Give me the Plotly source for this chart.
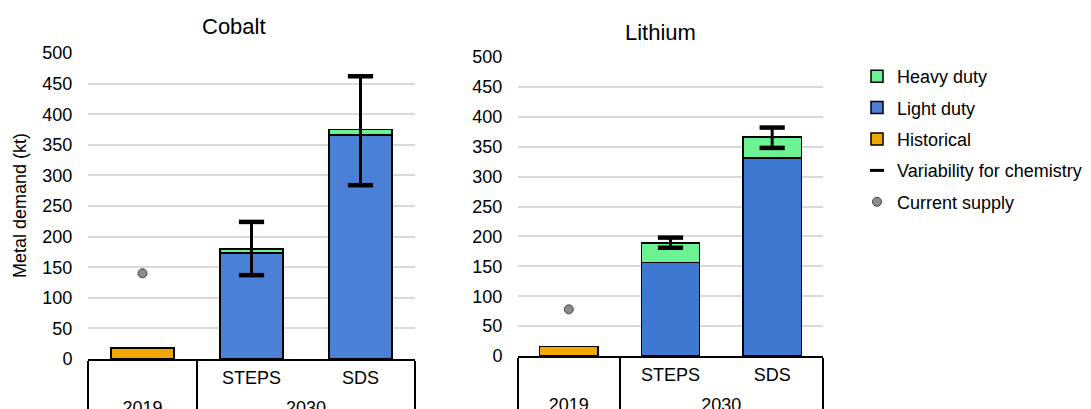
import plotly.graph_objects as go

# ---- data ----
years = ["2019", "2030", "2030"]
scenarios = ["<span style='font-size:27px'>\u00a0</span>", "STEPS", "SDS"]

cobalt_historical = [18, None, None]
cobalt_light = [None, 173, 366]
cobalt_heavy = [None, 7, 9]
cobalt_var_high = [None, 224, 462]
cobalt_var_low = [None, 137, 284]
cobalt_supply = [140, None, None]

lithium_historical = [16, None, None]
lithium_light = [None, 156, 331]
lithium_heavy = [None, 33, 35]
lithium_var_high = [None, 198, 382]
lithium_var_low = [None, 181, 348]
lithium_supply = [78, None, None]

C_HEAVY = "#6cf292"
C_LIGHT_CO = "#4a80d6"
C_LIGHT_LI = "#3e79d1"
C_HIST = "#f0a800"
C_SUPPLY = "#8c8c8c"
FONT = "Liberation Sans, Arial, sans-serif"

W, H = 1091, 409
x_cat = [years, scenarios]

fig = go.Figure()


def add_panel(fig, xa, ya, hist, light, heavy, hi, lo, supply, light_color, show):
    fig.add_trace(go.Bar(x=x_cat, y=hist, name="Historical", legendgroup="hist",
                         marker=dict(color=C_HIST, line=dict(color="black", width=1.5)),
                         xaxis=xa, yaxis=ya, showlegend=show, legendrank=3))
    fig.add_trace(go.Bar(x=x_cat, y=light, name="Light duty", legendgroup="light",
                         marker=dict(color=light_color, line=dict(color="black", width=1.5)),
                         xaxis=xa, yaxis=ya, showlegend=show, legendrank=2))
    fig.add_trace(go.Bar(x=x_cat, y=heavy, name="Heavy duty", legendgroup="heavy",
                         marker=dict(color=C_HEAVY, line=dict(color="black", width=1.5)),
                         xaxis=xa, yaxis=ya, showlegend=show, legendrank=1))
    tot = [None if l is None else l + h for l, h in zip(light, heavy)]
    up = [None if t is None else v - t for t, v in zip(tot, hi)]
    dn = [None if t is None else t - v for t, v in zip(tot, lo)]
    # error bar stems
    fig.add_trace(go.Scatter(x=x_cat, y=tot, mode="markers", marker=dict(size=1, color="rgba(0,0,0,0)"),
                             error_y=dict(type="data", array=up, arrayminus=dn, symmetric=False, color="black",
                                          thickness=3, width=0),
                             xaxis=xa, yaxis=ya, showlegend=False, hoverinfo="skip", legendgroup="var"))
    # error bar caps
    cap_x = [years + years, scenarios + scenarios]
    fig.add_trace(go.Scatter(x=cap_x, y=list(hi) + list(lo), mode="markers",
                             marker=dict(symbol="line-ew-open", size=18, color="black",
                                         line=dict(color="black", width=4.5)),
                             xaxis=xa, yaxis=ya, showlegend=False, hoverinfo="skip", legendgroup="var"))
    fig.add_trace(go.Scatter(x=x_cat, y=supply, mode="markers", name="Current supply", legendgroup="supply",
                             marker=dict(size=9, color=C_SUPPLY, line=dict(color="#404040", width=1)),
                             xaxis=xa, yaxis=ya, showlegend=show, legendrank=5))


add_panel(fig, "x", "y", cobalt_historical, cobalt_light, cobalt_heavy, cobalt_var_high, cobalt_var_low,
          cobalt_supply, C_LIGHT_CO, True)
add_panel(fig, "x2", "y2", lithium_historical, lithium_light, lithium_heavy, lithium_var_high, lithium_var_low,
          lithium_supply, C_LIGHT_LI, False)

# legend-only entry for variability
fig.add_trace(go.Scatter(x=[None], y=[None], mode="markers", name="Variability for chemistry", legendgroup="var",
                         marker=dict(symbol="line-ew-open", size=10, color="black", line=dict(color="black", width=3)),
                         showlegend=True, legendrank=4))

xcommon = dict(type="multicategory", showline=True, linecolor="black", linewidth=1.5,
               showdividers=True, dividercolor="black", dividerwidth=1.5, ticklabelstandoff=2,
               showgrid=False, ticks="", tickfont=dict(size=18, color="black", family=FONT))
ycommon = dict(range=[0, 500], dtick=50, showgrid=True, gridcolor="#d9d9d9", gridwidth=1.5,
               zeroline=False, showline=False, ticks="outside", ticklen=11, tickcolor="rgba(0,0,0,0)",
               tickfont=dict(size=18, color="black", family=FONT))

TOP, BOT = 45, 58
plot_h = H - TOP - BOT

fig.update_layout(
    width=W, height=H,
    margin=dict(l=0, r=0, t=TOP, b=BOT, autoexpand=False),
    paper_bgcolor="white", plot_bgcolor="white",
    barmode="stack", bargap=0.425,
    font=dict(family=FONT, size=18, color="black"),
    xaxis=dict(domain=[80 / W, 407 / W], anchor="y", **xcommon),
    yaxis=dict(domain=[0, 1], anchor="x", **ycommon),
    xaxis2=dict(domain=[510 / W, 815 / W], anchor="y2", **xcommon),
    yaxis2=dict(domain=[3 / plot_h, (plot_h - 4) / plot_h], anchor="x2", **ycommon),
    legend=dict(x=849 / W, y=1 - 50 / H, yref="container", xanchor="left", yanchor="top",
                traceorder="grouped", tracegroupgap=5, font=dict(size=18, family=FONT), bgcolor="rgba(0,0,0,0)"),
    annotations=[
        dict(text="Cobalt", x=226 / W, y=(H - BOT - 18) / plot_h, xref="paper", yref="paper", showarrow=False,
             xanchor="center", yanchor="middle", font=dict(size=22, family=FONT)),
        dict(text="Lithium", x=652 / W, y=(H - BOT - 24) / plot_h, xref="paper", yref="paper", showarrow=False,
             xanchor="center", yanchor="middle", font=dict(size=22, family=FONT)),
        dict(text="Metal demand (kt)", x=12 / W, y=0.5, xref="paper", yref="paper", showarrow=False,
             textangle=-90, xanchor="center", yanchor="middle", font=dict(size=18, family=FONT)),
    ],
    showlegend=True,
)

fig.write_html("out.html")
